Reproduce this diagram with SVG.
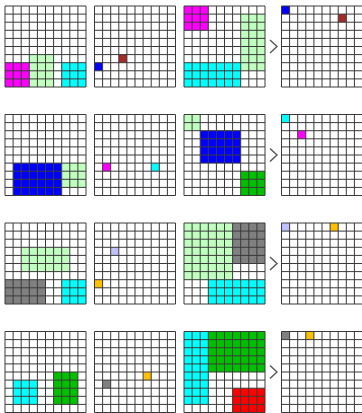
<svg xmlns="http://www.w3.org/2000/svg" xmlns:xlink="http://www.w3.org/1999/xlink" width="362" height="413" viewBox="0 0 362 413">
<style>
.gl{fill:none;stroke:#3a3a3a;stroke-width:1}
.arr{fill:none;stroke:#555;stroke-width:1.4}
.m{fill:#ff00ff}.lg{fill:#c0ffc0}.c{fill:#00ffff}.b{fill:#0000ff}.br{fill:#a52a2a}
.g{fill:#00c000}.gr{fill:#808080}.lv{fill:#c0c0ff}.o{fill:#ffc000}.r{fill:#ff0000}
</style>
<defs>
<path id="grid" class="gl" d="M0,0V81M8.1,0V81M16.2,0V81M24.3,0V81M32.4,0V81M40.5,0V81M48.6,0V81M56.7,0V81M64.8,0V81M72.9,0V81M81,0V81M0,0H81M0,8.1H81M0,16.2H81M0,24.3H81M0,32.4H81M0,40.5H81M0,48.6H81M0,56.7H81M0,64.8H81M0,72.9H81M0,81H81"/>
</defs>
<rect width="362" height="413" fill="#fff"/>
<!-- Row 1 -->
<g id="r1g1" transform="translate(5,6)">
<rect class="m" x="0" y="56.7" width="24.3" height="24.3"/>
<rect class="lg" x="24.3" y="48.6" width="24.3" height="32.4"/>
<rect class="c" x="56.7" y="56.7" width="24.3" height="24.3"/>
<use xlink:href="#grid" href="#grid"/>
</g>
<g id="r1g2" transform="translate(94.5,6)">
<rect class="b" x="0" y="56.7" width="8.1" height="8.1"/>
<rect class="br" x="24.3" y="48.6" width="8.1" height="8.1"/>
<use xlink:href="#grid" href="#grid"/>
</g>
<g id="r1g3" transform="translate(184,6)">
<rect class="m" x="0" y="0" width="24.3" height="24.3"/>
<rect class="lg" x="56.7" y="8.1" width="24.3" height="56.7"/>
<rect class="c" x="0" y="56.7" width="56.7" height="24.3"/>
<use xlink:href="#grid" href="#grid"/>
</g>
<g id="r1g4" transform="translate(281.5,6)">
<rect class="b" x="0" y="0" width="8.1" height="8.1"/>
<rect class="br" x="56.7" y="8.1" width="8.1" height="8.1"/>
<use xlink:href="#grid" href="#grid"/>
</g>
<!-- Row 2 -->
<g id="r2g1" transform="translate(5,114.5)">
<rect class="b" x="8.1" y="48.6" width="48.6" height="32.4"/>
<rect class="lg" x="56.7" y="48.6" width="24.3" height="24.3"/>
<use xlink:href="#grid" href="#grid"/>
</g>
<g id="r2g2" transform="translate(94.5,114.5)">
<rect class="m" x="8.1" y="48.6" width="8.1" height="8.1"/>
<rect class="c" x="56.7" y="48.6" width="8.1" height="8.1"/>
<use xlink:href="#grid" href="#grid"/>
</g>
<g id="r2g3" transform="translate(184,114.5)">
<rect class="lg" x="0" y="0" width="16.2" height="16.2"/>
<rect class="b" x="16.2" y="16.2" width="40.5" height="32.4"/>
<rect class="g" x="56.7" y="56.7" width="24.3" height="24.3"/>
<use xlink:href="#grid" href="#grid"/>
</g>
<g id="r2g4" transform="translate(281.5,114.5)">
<rect class="c" x="0" y="0" width="8.1" height="8.1"/>
<rect class="m" x="16.2" y="16.2" width="8.1" height="8.1"/>
<use xlink:href="#grid" href="#grid"/>
</g>
<!-- Row 3 -->
<g id="r3g1" transform="translate(5,223)">
<rect class="lg" x="16.2" y="24.3" width="48.6" height="24.3"/>
<rect class="gr" x="0" y="56.7" width="40.5" height="24.3"/>
<rect class="c" x="56.7" y="56.7" width="24.3" height="24.3"/>
<use xlink:href="#grid" href="#grid"/>
</g>
<g id="r3g2" transform="translate(94.5,223)">
<rect class="lv" x="16.2" y="24.3" width="8.1" height="8.1"/>
<rect class="o" x="0" y="56.7" width="8.1" height="8.1"/>
<use xlink:href="#grid" href="#grid"/>
</g>
<g id="r3g3" transform="translate(184,223)">
<rect class="lg" x="0" y="0" width="48.6" height="56.7"/>
<rect class="gr" x="48.6" y="0" width="32.4" height="40.5"/>
<rect class="c" x="24.3" y="56.7" width="56.7" height="24.3"/>
<use xlink:href="#grid" href="#grid"/>
</g>
<g id="r3g4" transform="translate(281.5,223)">
<rect class="lv" x="0" y="0" width="8.1" height="8.1"/>
<rect class="o" x="48.6" y="0" width="8.1" height="8.1"/>
<use xlink:href="#grid" href="#grid"/>
</g>
<!-- Row 4 -->
<g id="r4g1" transform="translate(5,331.5)">
<rect class="c" x="8.1" y="48.6" width="24.3" height="24.3"/>
<rect class="g" x="48.6" y="40.5" width="24.3" height="32.4"/>
<use xlink:href="#grid" href="#grid"/>
</g>
<g id="r4g2" transform="translate(94.5,331.5)">
<rect class="gr" x="8.1" y="48.6" width="8.1" height="8.1"/>
<rect class="o" x="48.6" y="40.5" width="8.1" height="8.1"/>
<use xlink:href="#grid" href="#grid"/>
</g>
<g id="r4g3" transform="translate(184,331.5)">
<rect class="c" x="0" y="0" width="24.3" height="72.9"/>
<rect class="g" x="24.3" y="0" width="56.7" height="40.5"/>
<rect class="r" x="48.6" y="56.7" width="32.4" height="24.3"/>
<use xlink:href="#grid" href="#grid"/>
</g>
<g id="r4g4" transform="translate(281.5,331.5)">
<rect class="gr" x="0" y="0" width="8.1" height="8.1"/>
<rect class="o" x="24.3" y="0" width="8.1" height="8.1"/>
<use xlink:href="#grid" href="#grid"/>
</g>
<g id="connectors">
<path class="arr" d="M270,40L277,46.5L270,53"/>
<path class="arr" d="M270,148.5L277,155L270,161.5"/>
<path class="arr" d="M270,257L277,263.5L270,270"/>
<path class="arr" d="M270,365.5L277,372L270,378.5"/>
</g>
</svg>
